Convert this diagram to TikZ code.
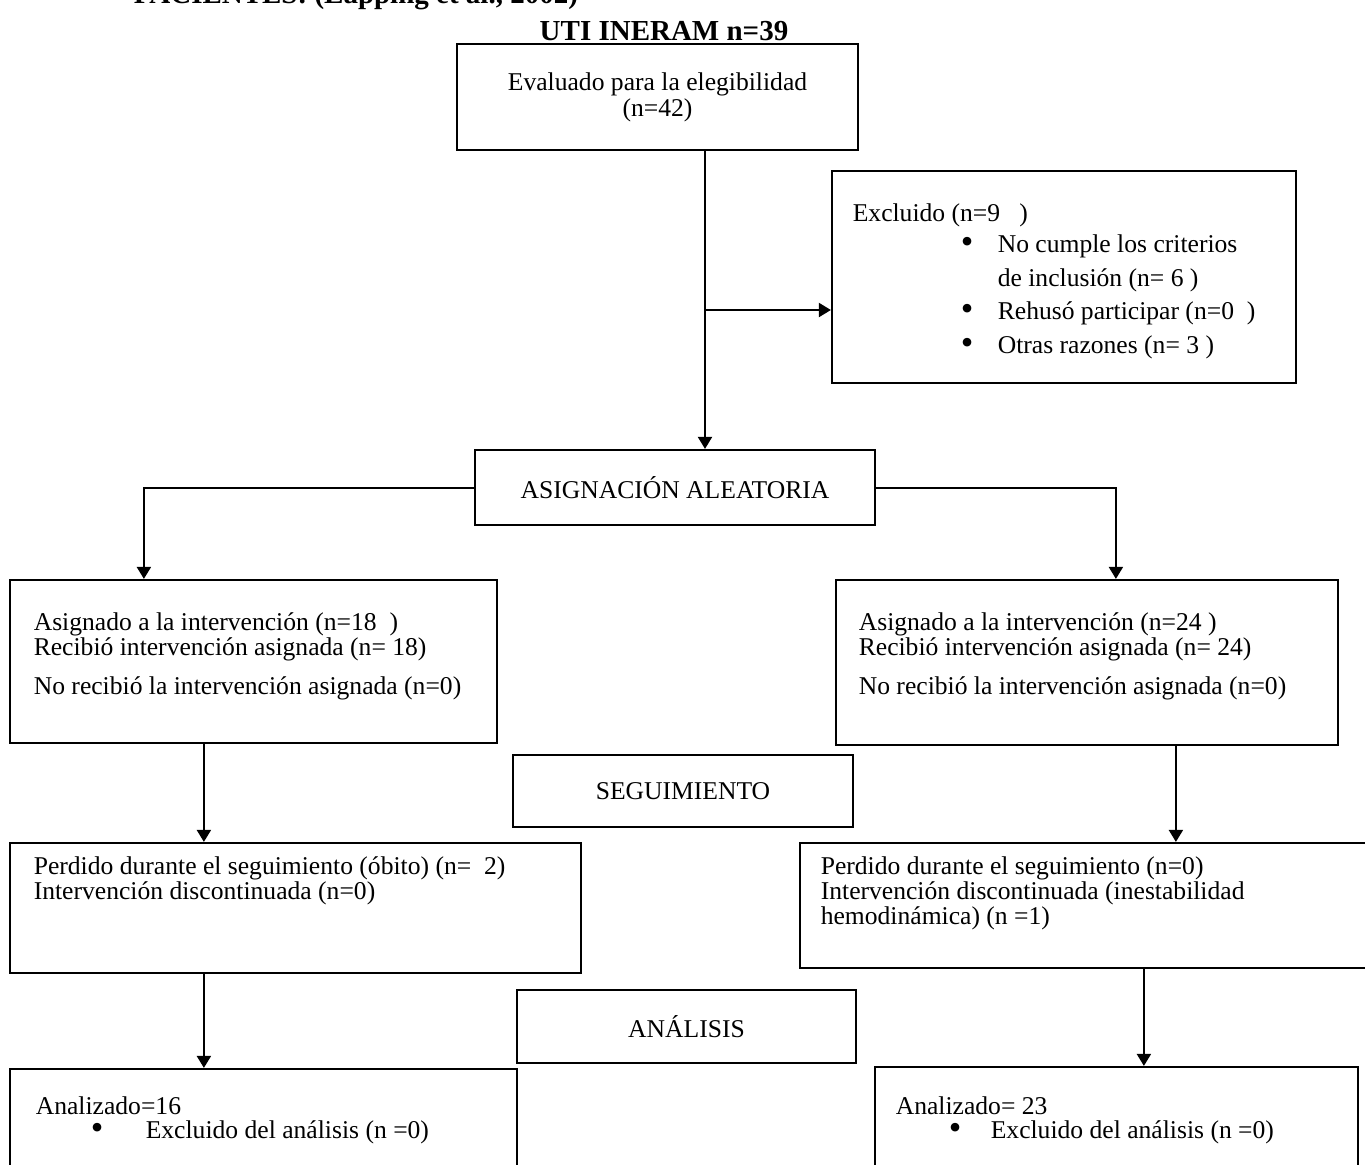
\documentclass[tikz,border=0pt]{standalone}
\usepackage{fontspec}
\setmainfont{Liberation Serif}
\usetikzlibrary{arrows.meta}
\newcommand{\bigdot}{\smash{\raisebox{-0.1ex}{\scalebox{1.4}{\textbullet}}}}
\newcommand{\bul}{\makebox[18.5pt][l]{\bigdot}}
\begin{document}
\begin{tikzpicture}[x=0.5pt, y=-0.5pt, thick,
	box/.style={draw, line width=1.1pt, inner sep=0pt, align=center, font=\fontsize{12.8}{13}\selectfont},
	txt/.style={anchor=base west, inner sep=0pt, align=left, font=\fontsize{12.8}{12.5}\selectfont},
	ttl/.style={inner sep=0pt, font=\fontsize{14.5}{16}\selectfont\bfseries},
	arr/.style={line width=1pt, -{Triangle[length=6pt,width=7pt]}}]
	\useasboundingbox (0,0) rectangle (1365,1164);
	\node[ttl, anchor=base west] (pac) at (133,3) {PACIENTES: (Lapping et al., 2002)};
	\node[ttl, anchor=base] (title) at (664,40) {UTI INERAM n=39};

	\node[box, minimum width=200.5pt, minimum height=53pt] (eval) at (657.5,97) {Evaluado para la elegibilidad\\(n=42)};
	\node[box, minimum width=232pt, minimum height=106pt] (excl) at (1064,277) {};
	\node[txt] (exclt) at (852,221) {Excluido (n=9\ \ \ )};
	% base of a multi-line text is its last line
	\node[txt, font=\fontsize{12.8}{16.75}\selectfont] (exclb) at (960,353) {\bul No cumple los criterios\\\hspace*{18.5pt}de inclusión (n= 6 )\\\bul Rehusó participar (n=0\ \ )\\\bul Otras razones (n= 3 )};
	\node[box, minimum width=200pt, minimum height=37.5pt] (asig) at (675,487.5) {ASIGNACIÓN ALEATORIA};

	\node[box, minimum width=243.5pt, minimum height=81.5pt] (left1) at (253.5,661.5) {};
	\node[txt] (left1t) at (33,694) {Asignado a la intervención (n=18\ \ )\\Recibió intervención asignada (n= 18)\\[7pt]No recibió la intervención asignada (n=0)};
	\node[box, minimum width=251pt, minimum height=82.5pt] (right1) at (1087,662.5) {};
	\node[txt] (right1t) at (858,694) {Asignado a la intervención (n=24 )\\Recibió intervención asignada (n= 24)\\[7pt]No recibió la intervención asignada (n=0)};
	\node[box, minimum width=170pt, minimum height=36pt] (segu) at (683,791) {SEGUIMIENTO};

	\node[box, minimum width=285.5pt, minimum height=65pt] (left2) at (295.5,908) {};
	\node[txt] (left2t) at (33,899) {Perdido durante el seguimiento (óbito) (n=\ \ 2)\\Intervención discontinuada (n=0)};
	\node[box, minimum width=290pt, minimum height=62.5pt] (right2) at (1090,905.5) {};
	\node[txt] (right2t) at (820,924) {Perdido durante el seguimiento (n=0)\\Intervención discontinuada (inestabilidad\\hemodinámica) (n =1)};
	\node[box, minimum width=169.5pt, minimum height=36.5pt] (anal) at (686.5,1026.5) {ANÁLISIS};

	\node[box, minimum width=253.5pt, minimum height=60.5pt] (left3) at (263.5,1129.5) {};
	\node[txt] (left3t) at (35,1114) {Analizado=16};
	\node[txt] (left3b) at (90,1138) {\makebox[27.5pt][l]{\bigdot}Excluido del análisis (n =0)};
	\node[box, minimum width=241.5pt, minimum height=61.5pt] (right3) at (1116.5,1128.5) {};
	\node[txt] (right3t) at (895,1114) {Analizado= 23};
	\node[txt] (right3b) at (948,1138) {\makebox[21pt][l]{\bigdot}Excluido del análisis (n =0)};

	\coordinate (split) at (705,310);
	\draw[line width=1pt] (eval.south -| split) -- (split);
	\draw[arr] (split) -- (asig.north -| split);
	\draw[arr] (split) -- (split -| excl.west);
	\draw[arr] (asig.west) -| ([xshift=67.5pt]left1.north west);
	\draw[arr] (asig.east) -| ([xshift=140.5pt]right1.north west);
	\coordinate (l12) at ([xshift=97.5pt]left1.south west);
	\draw[arr] (l12) -- (l12 |- left2.north);
	\coordinate (r12) at ([xshift=170.5pt]right1.south west);
	\draw[arr] (r12) -- (r12 |- right2.north);
	\coordinate (l23) at ([xshift=97.5pt]left2.south west);
	\draw[arr] (l23) -- (l23 |- left3.north);
	\coordinate (r23) at ([xshift=172.5pt]right2.south west);
	\draw[arr] (r23) -- (r23 |- right3.north);
\end{tikzpicture}
\end{document}
